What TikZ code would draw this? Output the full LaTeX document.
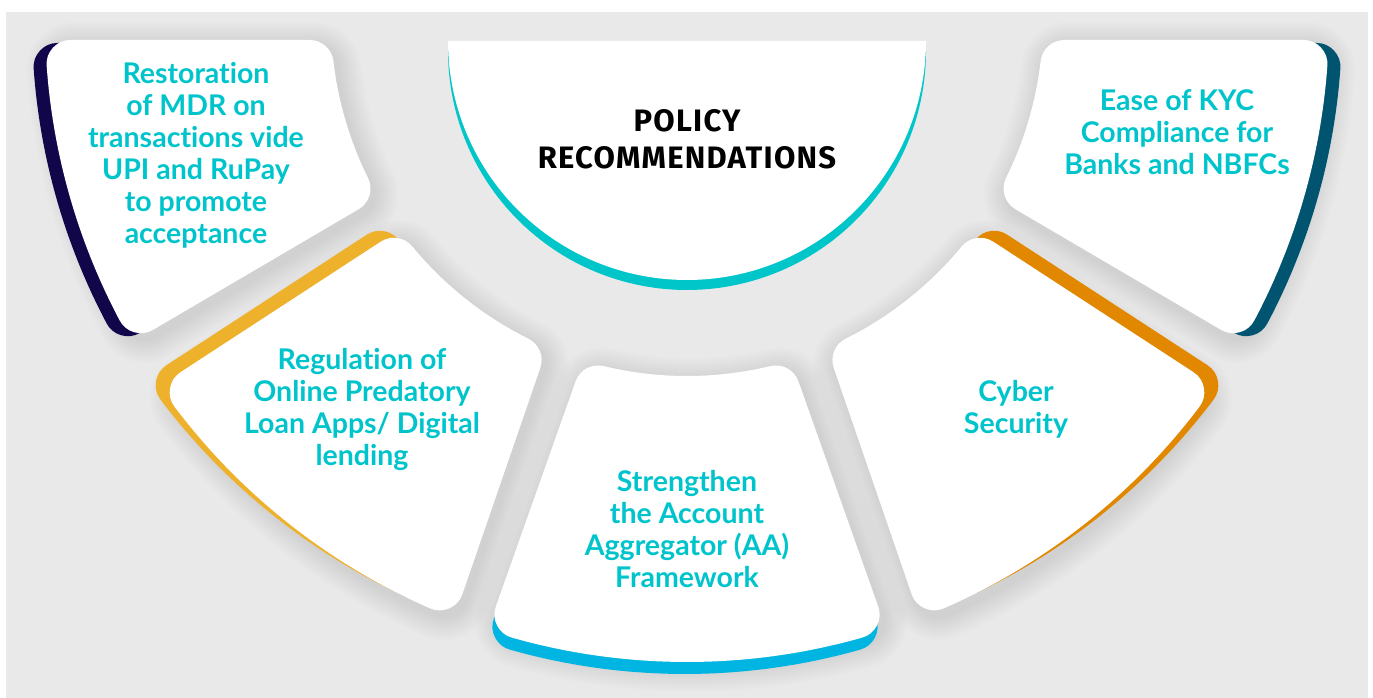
\documentclass[tikz,border=0pt]{standalone}
\usepackage{fontspec}
\setmainfont{Lato}[Ligatures={NoCommon}]
\newfontfamily\headfont{Fira Sans}[LetterSpace=4]
\definecolor{bggray}{HTML}{E9E9E9}
\definecolor{tealtext}{HTML}{00C4CC}
\definecolor{tealarc}{HTML}{00C6C9}
\definecolor{navyacc}{HTML}{12064A}
\definecolor{yelacc}{HTML}{EEB12C}
\definecolor{skyacc}{HTML}{00B5E2}
\definecolor{orgacc}{HTML}{E18800}
\definecolor{dtealacc}{HTML}{005470}

% Each segment: outer arc (radius 618) and inner arc (radius 380) of the
% shrunk core, widened by a 48pt round-join stroke to get rounded corners.
\def\seglist{152.1/175.92/153.67/173.35/navyacc/-13/3,
             113.59/142.96/116.48/140.48/yelacc/-14/-7,
             74.17/105.83/76.48/103.52/skyacc/-2/12,
             37.04/66.41/39.52/63.52/orgacc/14/-7,
             4.08/27.9/6.65/26.33/dtealacc/13/3}

\tikzset{
  core/.style={line join=round, line width=48pt},
  itemtext/.style={text=tealtext, font=\bfseries\fontsize{28.5}{32}\selectfont, align=center, inner sep=0pt},
  headtext/.style={text=black, font=\headfont\bfseries\fontsize{31}{37}\selectfont, align=center, inner sep=0pt}
}

\begin{document}
\begin{tikzpicture}[x=1pt, y=-1pt]
\useasboundingbox (0,0) rectangle (1373,698);
\fill[white] (0,0) rectangle (1373,698);
\fill[bggray] (6,12) rectangle (1368,698);

% soft shadows
\foreach \oa/\ob/\ia/\ib/\col/\dx/\dy in \seglist {
  \foreach \k in {2,4,...,24} {
    \pgfmathsetmacro\lw{48+2*\k}
    \draw[line join=round, line width=\lw pt, black, draw opacity=0.007, shift={(4,6)}]
      plot[domain=\oa:\ob, samples=60] ({687+618*cos(\x)},{20+618*sin(\x)})
      -- plot[domain=-\ib:-\ia, samples=60] ({687+380*cos(-\x)},{20+380*sin(-\x)}) -- cycle;
  }
}

% coloured accents behind the cards
\foreach \oa/\ob/\ia/\ib/\col/\dx/\dy in \seglist {
  \filldraw[core, \col, shift={(\dx,\dy)}]
    plot[domain=\oa:\ob, samples=60] ({687+618*cos(\x)},{20+618*sin(\x)})
    -- plot[domain=-\ib:-\ia, samples=60] ({687+380*cos(-\x)},{20+380*sin(-\x)}) -- cycle;
}

% white cards
\foreach \oa/\ob/\ia/\ib/\col/\dx/\dy in \seglist {
  \filldraw[core, white]
    plot[domain=\oa:\ob, samples=60] ({687+618*cos(\x)},{20+618*sin(\x)})
    -- plot[domain=-\ib:-\ia, samples=60] ({687+380*cos(-\x)},{20+380*sin(-\x)}) -- cycle;
}

% central half disc
\fill[tealarc] plot[domain=0:180, samples=120] ({687+239*cos(\x)},{51+239*sin(\x)}) -- cycle;
\fill[white] plot[domain=0:180, samples=120] ({687+239*cos(\x)},{41+239*sin(\x)}) -- cycle;

\node[headtext] (head) at (687,139) {POLICY\\RECOMMENDATIONS};

\node[itemtext] (mdr) at (196,155) {Restoration\\of MDR on\\transactions vide\\UPI and RuPay\\to promote\\acceptance};
\node[itemtext] (loan) at (362,409) {Regulation of\\Online Predatory\\Loan Apps/ Digital\\lending};
\node[itemtext] (aa) at (687,529) {Strengthen\\the Account\\Aggregator (AA)\\Framework};
\node[itemtext] (cyber) at (1016,409) {Cyber\\Security};
\node[itemtext] (kyc) at (1177,132) {Ease of KYC\\Compliance for\\Banks and NBFCs};
\end{tikzpicture}
\end{document}
